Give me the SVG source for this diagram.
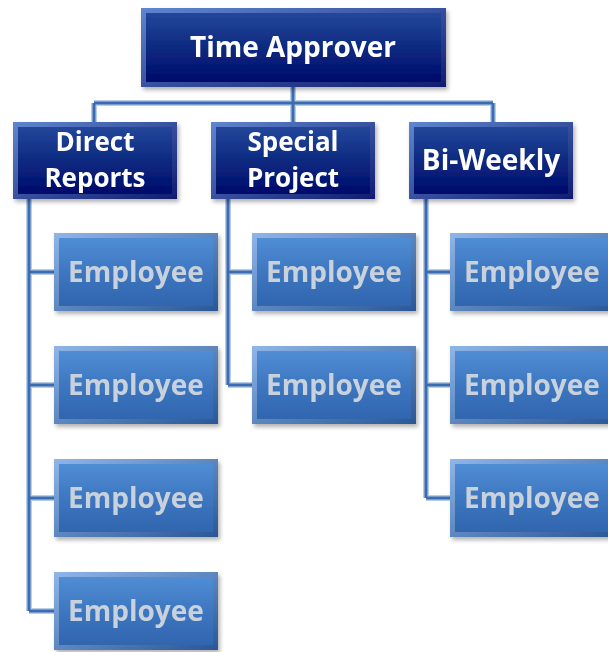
<svg xmlns="http://www.w3.org/2000/svg" width="608" height="652" viewBox="0 0 608 652">
<defs>
<linearGradient id="navy" x1="0" y1="0" x2="0" y2="1">
<stop offset="0" stop-color="#23479a"/>
<stop offset="0.5" stop-color="#0c2a80"/>
<stop offset="1" stop-color="#000a6b"/>
</linearGradient>
<linearGradient id="navyEdge" x1="0" y1="0" x2="1" y2="1">
<stop offset="0" stop-color="#5f86d0"/>
<stop offset="1" stop-color="#101c70"/>
</linearGradient>
<linearGradient id="steel" x1="0" y1="0" x2="0" y2="1">
<stop offset="0" stop-color="#508dd4"/>
<stop offset="0.5" stop-color="#3d77c0"/>
<stop offset="1" stop-color="#3065ae"/>
</linearGradient>
<linearGradient id="steelEdge" x1="0" y1="0" x2="1" y2="1">
<stop offset="0" stop-color="#8fb6e8"/>
<stop offset="1" stop-color="#2a5796"/>
</linearGradient>
<filter id="sh" x="-10%" y="-10%" width="125%" height="130%">
<feDropShadow dx="2" dy="3" stdDeviation="2" flood-color="#000" flood-opacity="0.3"/>
</filter>
</defs>
<style>
.lineOut{fill:none;stroke:#b9cde6;stroke-width:6}
.lineIn{fill:none;stroke:#3b6cb2;stroke-width:3}
.hd{font-family:"Open Sans",Lato,"Liberation Sans",sans-serif;font-weight:bold;font-size:28px;fill:#ffffff;text-anchor:middle}
.hd2{font-size:26px}
.em{font-family:"Open Sans",Lato,"Liberation Sans",sans-serif;font-weight:bold;font-size:28px;fill:#c9d2dc;text-anchor:middle}
</style>
<rect width="608" height="652" fill="#ffffff"/>
<g id="connectors">
<path class="lineOut" d="M293,87 V103 M94,103 H493 M94,103 V122 M293,103 V122 M493,103 V122 M29,199 V611 M29,272 H54 M29,385 H54 M29,498 H54 M29,611 H54 M228,199 V385 M228,272 H252 M228,385 H252 M426,199 V498 M426,272 H450 M426,385 H450 M426,498 H450"/>
<path class="lineIn" d="M293,87 V103 M94,103 H493 M94,103 V122 M293,103 V122 M493,103 V122 M29,199 V611 M29,272 H54 M29,385 H54 M29,498 H54 M29,611 H54 M228,199 V385 M228,272 H252 M228,385 H252 M426,199 V498 M426,272 H450 M426,385 H450 M426,498 H450"/>
</g>
<g id="time-approver" filter="url(#sh)">
<rect x="141" y="8" width="305" height="79" fill="url(#navyEdge)"/>
<rect x="146" y="13" width="295" height="69" fill="url(#navy)"/>
<text class="hd" x="293" y="57">Time Approver</text>
</g>
<g id="direct-reports" filter="url(#sh)">
<rect x="13" y="122" width="164" height="77" fill="url(#navyEdge)"/>
<rect x="18" y="127" width="154" height="67" fill="url(#navy)"/>
<text class="hd hd2" x="95" y="151">Direct</text>
<text class="hd hd2" x="95" y="187">Reports</text>
</g>
<g id="special-project" filter="url(#sh)">
<rect x="211" y="122" width="164" height="77" fill="url(#navyEdge)"/>
<rect x="216" y="127" width="154" height="67" fill="url(#navy)"/>
<text class="hd hd2" x="293" y="151">Special</text>
<text class="hd hd2" x="293" y="187">Project</text>
</g>
<g id="bi-weekly" filter="url(#sh)">
<rect x="409" y="122" width="164" height="77" fill="url(#navyEdge)"/>
<rect x="414" y="127" width="154" height="67" fill="url(#navy)"/>
<text class="hd" x="491" y="170">Bi-Weekly</text>
</g>
<g id="emp-d1" filter="url(#sh)"><rect x="54" y="233" width="164" height="78" fill="url(#steelEdge)"/><rect x="59" y="238" width="154" height="68" fill="url(#steel)"/><text class="em" x="136" y="282">Employee</text></g>
<g id="emp-d2" filter="url(#sh)"><rect x="54" y="346" width="164" height="78" fill="url(#steelEdge)"/><rect x="59" y="351" width="154" height="68" fill="url(#steel)"/><text class="em" x="136" y="395">Employee</text></g>
<g id="emp-d3" filter="url(#sh)"><rect x="54" y="459" width="164" height="78" fill="url(#steelEdge)"/><rect x="59" y="464" width="154" height="68" fill="url(#steel)"/><text class="em" x="136" y="508">Employee</text></g>
<g id="emp-d4" filter="url(#sh)"><rect x="54" y="572" width="164" height="78" fill="url(#steelEdge)"/><rect x="59" y="577" width="154" height="68" fill="url(#steel)"/><text class="em" x="136" y="621">Employee</text></g>
<g id="emp-s1" filter="url(#sh)"><rect x="252" y="233" width="164" height="78" fill="url(#steelEdge)"/><rect x="257" y="238" width="154" height="68" fill="url(#steel)"/><text class="em" x="334" y="282">Employee</text></g>
<g id="emp-s2" filter="url(#sh)"><rect x="252" y="346" width="164" height="78" fill="url(#steelEdge)"/><rect x="257" y="351" width="154" height="68" fill="url(#steel)"/><text class="em" x="334" y="395">Employee</text></g>
<g id="emp-b1" filter="url(#sh)"><rect x="450" y="233" width="164" height="78" fill="url(#steelEdge)"/><rect x="455" y="238" width="154" height="68" fill="url(#steel)"/><text class="em" x="532" y="282">Employee</text></g>
<g id="emp-b2" filter="url(#sh)"><rect x="450" y="346" width="164" height="78" fill="url(#steelEdge)"/><rect x="455" y="351" width="154" height="68" fill="url(#steel)"/><text class="em" x="532" y="395">Employee</text></g>
<g id="emp-b3" filter="url(#sh)"><rect x="450" y="459" width="164" height="78" fill="url(#steelEdge)"/><rect x="455" y="464" width="154" height="68" fill="url(#steel)"/><text class="em" x="532" y="508">Employee</text></g>
</svg>
